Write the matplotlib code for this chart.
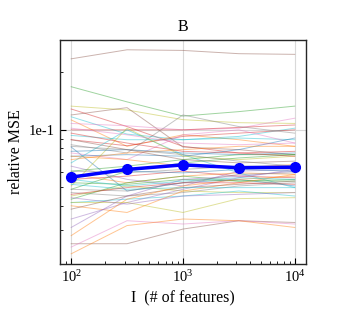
#! /usr/bin/env python3
# -*- coding: utf-8 -*-
import numpy as np
import matplotlib
matplotlib.use('Agg')
import matplotlib.pyplot as plt
from matplotlib.ticker import FuncFormatter, NullFormatter, LogLocator

# number of features
n_features = [100, 316, 1000, 3162, 10000]

# relative MSE of the individual runs (one row = one line)
runs_mse = [
    [0.235, 0.262, 0.260, 0.250, 0.248],
    [0.168, 0.140, 0.118, 0.1245, 0.133],
    [0.133, 0.127, 0.113, 0.109, 0.108],
    [0.1285, 0.104, 0.082, 0.0757, 0.0772],
    [0.1196, 0.1306, 0.0813, 0.0788, 0.0742],
    [0.117, 0.095, 0.0888, 0.0924, 0.102],
    [0.1127, 0.082, 0.0942, 0.0888, 0.082],
    [0.108, 0.105, 0.100, 0.102, 0.115],
    [0.100, 0.100, 0.100, 0.103, 0.106],
    [0.0935, 0.0888, 0.0888, 0.0906, 0.0888],
    [0.0888, 0.0826, 0.0924, 0.0961, 0.100],
    [0.0836, 0.0757, 0.1196, 0.104, 0.0961],
    [0.0813, 0.0479, 0.0529, 0.0551, 0.0509],
    [0.0757, 0.0699, 0.0942, 0.100, 0.0853],
    [0.0728, 0.0742, 0.0728, 0.0788, 0.0906],
    [0.0672, 0.100, 0.0742, 0.0596, 0.0499],
    [0.0646, 0.0551, 0.0509, 0.0608, 0.0621],
    [0.0608, 0.0596, 0.0621, 0.0646, 0.0646],
    [0.0585, 0.0529, 0.0573, 0.0596, 0.0585],
    [0.0551, 0.0573, 0.0608, 0.0573, 0.0562],
    [0.0529, 0.0519, 0.0551, 0.054, 0.0551],
    [0.0509, 0.102, 0.0728, 0.0699, 0.0728],
    [0.0489, 0.0608, 0.0672, 0.0713, 0.0742],
    [0.047, 0.0451, 0.047, 0.0509, 0.0529],
    [0.0451, 0.0509, 0.0479, 0.047, 0.047],
    [0.0434, 0.0529, 0.0573, 0.054, 0.054],
    [0.0417, 0.0434, 0.0451, 0.0479, 0.0451],
    [0.0401, 0.037, 0.0479, 0.0529, 0.0585],
    [0.0385, 0.0451, 0.0499, 0.0519, 0.054],
    [0.0342, 0.0417, 0.0489, 0.0562, 0.0621],
    [0.0309, 0.0451, 0.0551, 0.0573, 0.0608],
    [0.028, 0.0434, 0.0509, 0.0551, 0.0573],
    [0.0254, 0.0254, 0.0303, 0.0335, 0.0328],
    [0.0244, 0.0335, 0.0322, 0.0335, 0.0322],
    [0.0225, 0.0316, 0.0342, 0.0335, 0.0309],
    [0.0417, 0.0417, 0.037, 0.0437, 0.0442],
    [0.0772, 0.0788, 0.0757, 0.0742, 0.0757],
    [0.0699, 0.0757, 0.0788, 0.082, 0.082],
    [0.0888, 0.0788, 0.0699, 0.0672, 0.0686],
    [0.0608, 0.0646, 0.0699, 0.0742, 0.0742],
    [0.0573, 0.0608, 0.0596, 0.0621, 0.0608],
    [0.0551, 0.0509, 0.054, 0.0562, 0.0551],
    [0.0519, 0.0489, 0.0499, 0.0499, 0.0499],
    [0.0961, 0.0853, 0.0772, 0.0757, 0.0728],
    [0.102, 0.0942, 0.0853, 0.0836, 0.0853],
    [0.0489, 0.0479, 0.0529, 0.0585, 0.0596],
    [0.046, 0.0499, 0.0529, 0.0529, 0.0519],
    [0.0442, 0.0409, 0.0451, 0.046, 0.047],
    [0.0728, 0.0699, 0.0646, 0.0633, 0.0659],
    [0.082, 0.0788, 0.0742, 0.0686, 0.0646],
]

# the summary curve (bold)
summary_mse = [0.0566, 0.0621, 0.0656, 0.0634, 0.0638]

# colours of the thin lines
line_colors = [
    'tab:brown', 'tab:green', 'tab:olive', 'tab:red', 'tab:brown',
    'tab:cyan', 'tab:orange', 'tab:pink', 'tab:red', 'tab:cyan',
    'tab:red', 'tab:gray', 'tab:blue', 'tab:pink', 'tab:blue',
    'tab:cyan', 'tab:purple', 'tab:gray', 'tab:orange', 'tab:red',
    'tab:green', 'tab:olive', 'tab:green', 'tab:gray', 'tab:olive',
    'tab:green', 'tab:cyan', 'tab:orange', 'tab:brown', 'tab:purple',
    'tab:purple', 'tab:orange', 'tab:brown', 'tab:pink', 'tab:orange',
    'tab:olive', 'tab:blue', 'tab:orange', 'tab:brown', 'tab:green',
    'tab:blue', 'tab:cyan', 'tab:cyan', 'tab:red', 'tab:pink',
    'tab:gray', 'tab:red', 'tab:purple', 'tab:orange', 'tab:gray',
]

plt.rcParams['font.family'] = ['Liberation Serif', 'DejaVu Serif']
plt.rcParams['mathtext.fontset'] = 'custom'
plt.rcParams['mathtext.rm'] = 'Liberation Serif'

fig = plt.figure(figsize=(3.41, 3.31), dpi=100)
ax = fig.add_axes([0.176, 0.2024, 0.721, 0.678])

for mse, c in zip(runs_mse, line_colors):
    ax.plot(n_features, mse, color=c, lw=0.7, alpha=0.45)

ax.plot(n_features, summary_mse, color='#0000ff', lw=2.5,
        marker='o', markersize=7)

ax.set_xscale('log')
ax.set_yscale('log')

ax.xaxis.set_major_formatter(
    FuncFormatter(lambda v, p: r'$\mathregular{10^{%d}}$' % round(np.log10(v))))
ax.yaxis.set_major_locator(LogLocator(base=10))
ax.yaxis.set_major_formatter(
    FuncFormatter(lambda v, p: '1e%d' % round(np.log10(v))))
ax.yaxis.set_minor_formatter(NullFormatter())
ax.xaxis.set_minor_formatter(NullFormatter())

ax.tick_params(which='both', direction='in', labelsize=10.5)
ax.tick_params(which='major', length=4, width=0.8)
ax.tick_params(which='minor', length=2.5, width=0.6)
ax.grid(which='major', color='0.85', lw=0.8)
for s in ax.spines.values():
    s.set_color('0.15')
    s.set_linewidth(1.0)

ax.set_title("B", fontsize=11.5)
ax.set_xlabel("I  (# of features)", fontsize=11.5)
ax.set_ylabel("relative MSE", fontsize=11.5)

fig.savefig("out.png", dpi=100)
